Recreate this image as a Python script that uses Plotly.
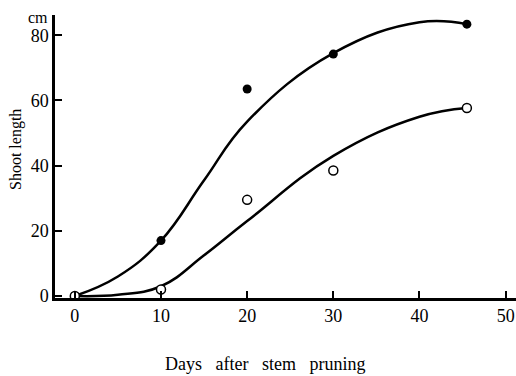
import plotly.graph_objects as go

# Observed data
days = [0, 10, 20, 30, 45.5]
filled_vals = [0, 17, 63.5, 74.2, 83.4]
open_vals = [0, 2, 29.5, 38.5, 57.7]

# Fitted curves
curve_days = [0, 5, 10, 15, 20, 30, 40, 45.5]
filled_curve = [0, 6, 17, 35.5, 53.5, 74.5, 84, 83.4]
open_curve = [0, 0.4, 3, 12.5, 23, 43, 55, 57.7]

x_ticks = [0, 10, 20, 30, 40, 50]
y_ticks = [0, 20, 40, 60, 80]

font = "Liberation Serif"

fig = go.Figure()
for cv in (filled_curve, open_curve):
    fig.add_trace(go.Scatter(x=curve_days, y=cv, mode="lines",
                             line=dict(color="black", width=2.5, shape="spline", smoothing=1.2),
                             showlegend=False, hoverinfo="skip"))
fig.add_trace(go.Scatter(x=days, y=filled_vals, mode="markers",
                         marker=dict(symbol="circle", size=9, color="black"),
                         showlegend=False))
fig.add_trace(go.Scatter(x=days, y=open_vals, mode="markers",
                         marker=dict(symbol="circle", size=9, color="white",
                                     line=dict(color="black", width=1.5)),
                         showlegend=False))

fig.update_layout(
    width=516, height=376,
    margin=dict(l=55, r=0, t=15, b=78),
    plot_bgcolor="white", paper_bgcolor="white",
    font=dict(family=font, color="black", size=18),
    xaxis=dict(range=[-2.3, 51.2], tickvals=x_ticks, ticks="inside", ticklen=7,
               tickwidth=2, tickcolor="black", showline=True, linewidth=2.5,
               linecolor="black", showgrid=False, zeroline=False,
               tickfont=dict(size=18, family=font)),
    yaxis=dict(range=[-0.6, 86.2], tickvals=y_ticks, ticks="inside", ticklen=7,
               tickwidth=2, tickcolor="black", showline=True, linewidth=2.5,
               linecolor="black", showgrid=False, zeroline=False,
               tickfont=dict(size=18, family=font)),
)
fig.add_annotation(text="cm", xref="paper", yref="paper", x=0, y=1, xanchor="right",
                   yanchor="middle", xshift=-5, yshift=-2, showarrow=False,
                   font=dict(size=16, family=font))
fig.add_annotation(text="Shoot length", xref="paper", yref="paper", x=0, y=0.523,
                   xanchor="center", yanchor="middle", xshift=-39, textangle=-90,
                   showarrow=False, font=dict(size=16, family=font))
fig.add_annotation(text="Days\u00a0\u00a0\u00a0after\u00a0\u00a0\u00a0stem\u00a0\u00a0\u00a0pruning",
                   xref="paper", yref="paper", x=0.4555, y=0, xanchor="center",
                   yanchor="middle", yshift=-66, showarrow=False,
                   font=dict(size=18, family=font))

fig.write_html("out.html")
